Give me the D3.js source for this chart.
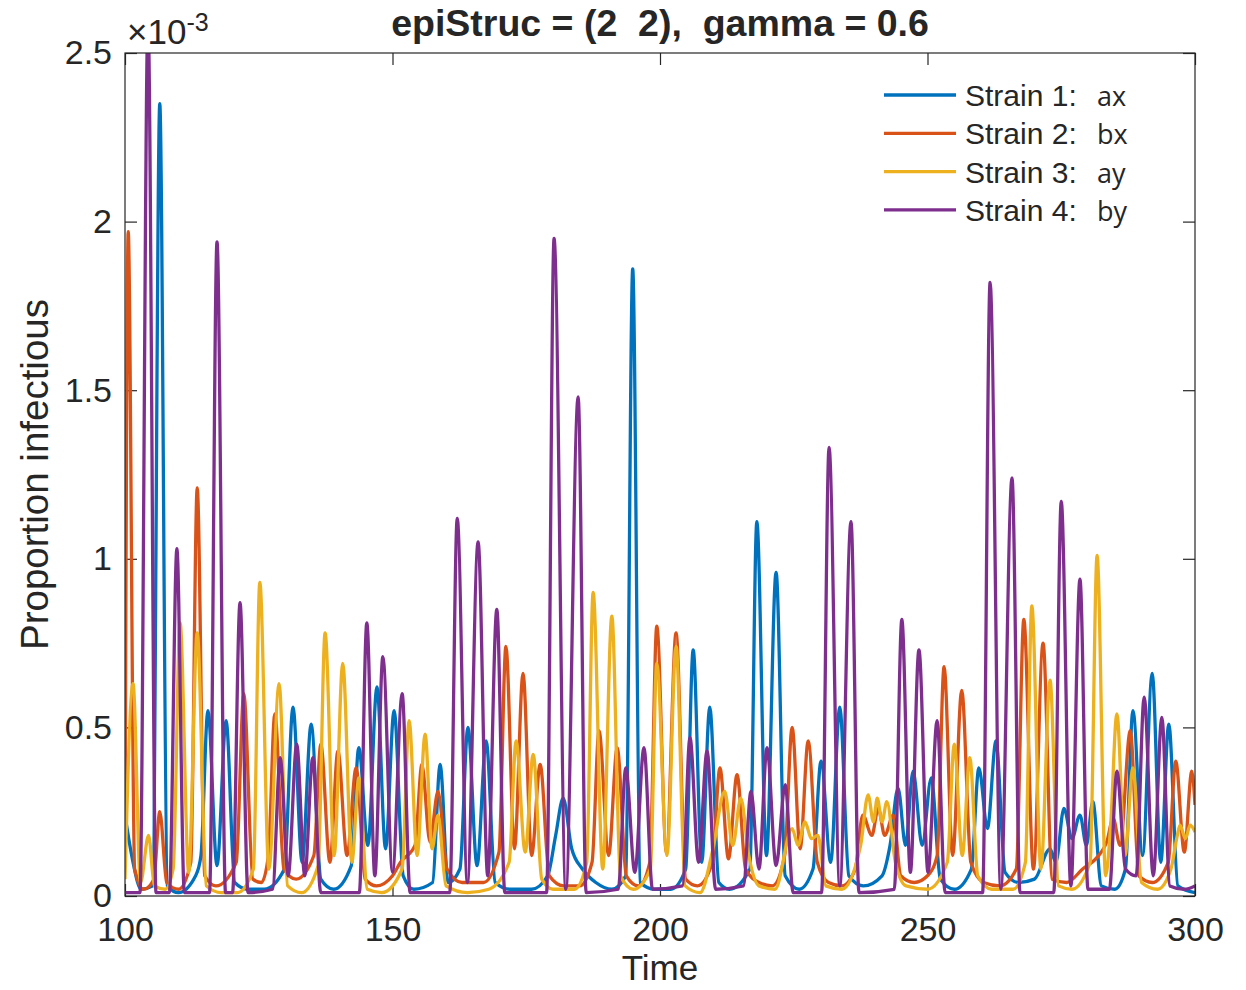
<!DOCTYPE html>
<html>
<head>
<meta charset="utf-8">
<script src="https://cdn.jsdelivr.net/npm/d3@7"></script>
<style>
  body { margin: 0; background: #fff; }
  text { font-family: "Liberation Sans", Arial, Helvetica, sans-serif; fill: #262626; }
</style>
</head>
<body>
<svg id="chart"></svg>
<script>
// tick values and labels
const timeTicks = [100, 150, 200, 250, 300];
const propTicks = [0, 0.5, 1, 1.5, 2, 2.5];
const strainNames = ["Strain 1:", "Strain 2:", "Strain 3:", "Strain 4:"];
const strainCodes = ["ax", "bx", "ay", "by"];

// [time, proportion infectious x 1e-3]
const strain1 = [[100,0.24],[101.5,0.1],[103,0.02],[105.2,0.03],[106.5,2.35],[107.9,0.03],[110,0.01],[113.2,0.06],[114.2,0.12],[115.5,0.55],[117.2,0.09],[118.9,0.52],[120.5,0.04],[123,0.02],[126,0.02],[129.8,0.08],[131.4,0.56],[133.1,0.1],[134.8,0.51],[136.6,0.05],[139,0.02],[142.3,0.09],[143.7,0.44],[145.4,0.15],[147.1,0.62],[148.7,0.14],[150.3,0.55],[152,0.06],[154,0.02],[157.5,0.04],[158.9,0.39],[160.4,0.04],[162.6,0.08],[164.1,0.5],[165.8,0.09],[167.5,0.46],[169.2,0.04],[172,0.02],[176,0.02],[179,0.06],[180.5,0.18],[181.9,0.29],[183.5,0.14],[185.5,0.08],[188,0.04],[191,0.02],[193.6,0.06],[194.9,1.86],[196.3,0.04],[199,0.02],[202,0.02],[204.8,0.08],[206.2,0.73],[207.8,0.1],[209.3,0.56],[211,0.04],[213,0.02],[216.8,0.08],[218.1,1.11],[219.9,0.12],[221.7,0.96],[223.4,0.06],[226,0.02],[228.6,0.08],[230.1,0.4],[231.9,0.1],[233.6,0.56],[235.3,0.06],[238,0.03],[241.5,0.06],[243,0.15],[244.5,0.32],[245.9,0.15],[247.3,0.37],[249,0.15],[250.7,0.35],[252.4,0.05],[255,0.02],[258.2,0.08],[259.6,0.38],[261.2,0.2],[262.8,0.46],[264.5,0.07],[267,0.04],[270,0.05],[272.9,0.14],[274,0.1],[275.5,0.26],[277,0.17],[278.5,0.24],[279.7,0.15],[280.9,0.28],[282.5,0.03],[285,0.02],[287,0.08],[288.4,0.55],[290.2,0.12],[292,0.66],[293.6,0.1],[295.1,0.51],[296.8,0.03],[300,0.01]];

const strain2 = [[100,0.12],[100.6,1.97],[101.8,0.08],[103.5,0.02],[105.4,0.05],[106.5,0.25],[107.8,0.04],[110,0.02],[112.3,0.1],[113.5,1.21],[114.9,0.06],[117,0.03],[120.8,0.1],[122.2,0.6],[123.9,0.05],[125.5,0.04],[126.8,0.12],[128,0.54],[129.7,0.08],[132,0.05],[135.3,0.12],[136.6,0.45],[138.3,0.1],[139.8,0.43],[141.5,0.12],[143.2,0.38],[144.9,0.05],[147,0.03],[150,0.06],[151.5,0.1],[154.2,0.15],[155.5,0.39],[157,0.16],[158.5,0.31],[160.2,0.08],[163,0.04],[167,0.04],[169.9,0.13],[171.2,0.74],[172.8,0.14],[174.4,0.66],[176,0.12],[177.6,0.39],[179.3,0.06],[182,0.03],[185,0.03],[187.3,0.1],[188.6,0.49],[190.4,0.12],[192,0.44],[193.7,0.06],[196,0.03],[198.1,0.1],[199.4,0.8],[201.2,0.13],[203,0.78],[204.8,0.05],[207,0.03],[209.8,0.1],[211.2,0.38],[212.8,0.11],[214.4,0.36],[216,0.08],[218.5,0.04],[221,0.03],[223.3,0.12],[224.7,0.5],[226.2,0.14],[227.7,0.46],[229.4,0.1],[231.5,0.04],[234,0.03],[236.5,0.08],[237.9,0.24],[239.6,0.18],[240.8,0.26],[242,0.18],[243.6,0.24],[245,0.06],[247.5,0.04],[250,0.06],[251.8,0.12],[253.1,0.68],[254.7,0.12],[256.4,0.61],[258.1,0.1],[260.5,0.04],[263.5,0.03],[266.6,0.08],[268,0.82],[269.8,0.08],[271.6,0.75],[273.3,0.05],[276,0.04],[279,0.08],[282,0.12],[283.5,0.16],[284.7,0.23],[286,0.15],[287.9,0.49],[289.5,0.06],[292,0.04],[295,0.1],[296.4,0.4],[298,0.13],[299.4,0.37],[300,0.27]];

const strain3 = [[100,0.05],[101.5,0.63],[102.9,0.04],[104.4,0.18],[105.5,0.03],[107.5,0.02],[109,0.08],[110.3,0.81],[111.9,0.07],[113.5,0.78],[115.2,0.03],[118,0.01],[121,0.01],[124,0.08],[125.2,0.93],[126.9,0.08],[128.8,0.63],[130.4,0.03],[133,0.01],[136.1,0.09],[137.4,0.78],[139.1,0.12],[140.7,0.69],[142.4,0.1],[143.7,0.35],[145.3,0.02],[148,0.01],[151.8,0.08],[153.1,0.52],[154.6,0.12],[156.1,0.48],[157.4,0.14],[158.5,0.24],[160,0.03],[164,0.01],[168,0.02],[171.8,0.1],[173.1,0.46],[174.8,0.13],[176.3,0.42],[177.9,0.05],[180,0.02],[184,0.02],[186.3,0.1],[187.5,0.9],[189.3,0.08],[191,0.83],[192.6,0.06],[195,0.02],[198.2,0.08],[199.4,0.69],[201.3,0.12],[203,0.74],[204.7,0.03],[207.5,0.01],[209.9,0.14],[212.1,0.31],[213.6,0.15],[215.1,0.29],[216.6,0.12],[218.5,0.03],[221.5,0.02],[224.7,0.2],[225.8,0.15],[227.1,0.22],[228.3,0.17],[229.5,0.18],[231,0.03],[234,0.02],[237.5,0.15],[238.9,0.3],[239.9,0.22],[240.6,0.29],[241.5,0.22],[242.4,0.28],[244,0.1],[246,0.03],[250,0.02],[253.7,0.1],[255,0.45],[256.5,0.12],[257.9,0.41],[259.4,0.06],[262,0.02],[266,0.02],[268.3,0.1],[269.5,0.86],[271.2,0.08],[272.9,0.64],[274.5,0.03],[277,0.02],[280.4,0.1],[281.7,1.01],[283.3,0.06],[284.2,0.2],[285.4,0.54],[286.9,0.12],[288.4,0.38],[290,0.04],[293,0.02],[295.5,0.08],[296.7,0.18],[297.2,0.21],[298.2,0.17],[299.1,0.21],[300,0.19]];

const strain4 = [[100,0.01],[102.8,0.01],[104.3,2.6],[105.8,0.01],[108.3,0.01],[109.7,1.03],[111.1,0.01],[115.8,0.01],[117.2,1.94],[118.8,0.01],[120.1,0.01],[121.5,0.87],[123,0.01],[127.6,0.02],[129,0.41],[130.5,0.06],[132.1,0.45],[133.6,0.06],[135.1,0.41],[136.6,0.01],[143.8,0.01],[145.2,0.81],[146.7,0.06],[148.2,0.71],[150,0.07],[151.8,0.6],[153.3,0.01],[160.7,0.01],[162.1,1.12],[164,0.04],[166,1.05],[167.8,0.06],[169.5,0.85],[171,0.01],[178.8,0.01],[180.2,1.95],[182.4,0.02],[184.7,1.48],[186.2,0.01],[192.2,0.02],[193.6,0.38],[195.3,0.07],[197,0.44],[198.6,0.02],[204.2,0.03],[205.6,0.47],[207.2,0.1],[208.8,0.43],[210.4,0.02],[215.6,0.03],[217,0.31],[218.5,0.08],[220,0.44],[221.7,0.09],[223.4,0.33],[224.9,0.01],[230.2,0.01],[231.6,1.33],[233.6,0.03],[235.7,1.11],[237.2,0.01],[243.8,0.02],[245.2,0.82],[246.8,0.07],[248.4,0.73],[250.1,0.07],[251.8,0.52],[253.3,0.01],[260.3,0.01],[261.7,1.82],[263.7,0.02],[265.8,1.24],[267.3,0.01],[273.6,0.01],[275,1.17],[276.8,0.03],[278.5,0.94],[280,0.02],[284,0.02],[285.4,0.37],[287,0.08],[289,0.06],[290.5,0.59],[292.2,0.06],[293.8,0.53],[295.3,0.03],[298,0.02],[300,0.03]];

const allStrains = [strain1, strain2, strain3, strain4];
const colors = ["#0072BD", "#D95319", "#EDB120", "#7E2F8E"];

const W = 1246, H = 990;
const margin = {top: 53, right: 51, bottom: 94, left: 125};
const width = W - margin.left - margin.right;
const height = H - margin.top - margin.bottom;

const svg = d3.select("#chart").attr("width", W).attr("height", H);
const chart = svg.append("g").attr("transform", `translate(${margin.left},${margin.top})`);

const x = d3.scaleLinear().domain([100, 300]).range([0, width]);
const y = d3.scaleLinear().domain([0, 2.5]).range([height, 0]);

chart.append("defs").append("clipPath").attr("id", "clip")
  .append("rect").attr("width", width).attr("height", height);

// axes, ticks point inward
const fmt = d => String(d);
chart.append("g").attr("class", "axis x-axis")
  .attr("transform", `translate(0,${height})`)
  .call(d3.axisBottom(x).tickValues(timeTicks).tickFormat(fmt).tickSizeInner(-12).tickSizeOuter(0).tickPadding(21));
chart.append("g").attr("class", "axis x-top")
  .call(d3.axisTop(x).tickValues(timeTicks).tickFormat("").tickSizeInner(-12).tickSizeOuter(0));
chart.append("g").attr("class", "axis y-axis")
  .call(d3.axisLeft(y).tickValues(propTicks).tickFormat(fmt).tickSizeInner(-12).tickSizeOuter(0).tickPadding(13));
chart.append("g").attr("class", "axis y-right")
  .attr("transform", `translate(${width},0)`)
  .call(d3.axisRight(y).tickValues(propTicks).tickFormat("").tickSizeInner(-12).tickSizeOuter(0));

chart.selectAll(".axis .domain").remove();
chart.selectAll(".axis line").attr("stroke", "#262626").attr("stroke-width", 1.2);
chart.selectAll(".axis text").attr("font-size", 34).attr("fill", "#262626")
  .style("font-family", "'Liberation Sans', Arial, sans-serif");

// lines
const line = d3.line()
  .x(d => x(d[0]))
  .y(d => y(d[1]))
  .curve(d3.curveMonotoneX);

chart.append("g").attr("clip-path", "url(#clip)")
  .selectAll(".strain")
  .data(allStrains)
  .join("path")
    .attr("class", "strain")
    .attr("d", line)
    .attr("fill", "none")
    .attr("stroke", (d, i) => colors[i])
    .attr("stroke-width", 3.3)
    .attr("stroke-linejoin", "round");

// box
chart.append("rect")
  .attr("width", width).attr("height", height)
  .attr("fill", "none").attr("stroke", "#262626").attr("stroke-width", 1.2);

// exponent
const expo = svg.append("text").attr("x", 127).attr("y", 44).attr("font-size", 35);
expo.append("tspan").style("font-weight", 300).text("\u00d710");
expo.append("tspan").attr("dy", -13).attr("font-size", 25).text("-3");

// title
svg.append("text")
  .attr("x", margin.left + width / 2).attr("y", 36)
  .attr("text-anchor", "middle")
  .attr("font-size", 37.5).attr("font-weight", "bold")
  .attr("fill", "#000")
  .style("white-space", "pre")
  .text("epiStruc = (2  2),  gamma = 0.6");

// axis titles
svg.append("text")
  .attr("x", margin.left + width / 2).attr("y", 980)
  .attr("text-anchor", "middle").attr("font-size", 35)
  .text("Time");

svg.append("text")
  .attr("transform", `translate(48,${margin.top + height / 2}) rotate(-90)`)
  .attr("text-anchor", "middle").attr("font-size", 38.5)
  .text("Proportion infectious");

// legend
const legend = svg.append("g").attr("class", "legend");
const rows = legend.selectAll("g").data(strainNames).join("g")
  .attr("transform", (d, i) => `translate(884,${95 + i * 38.3})`);
rows.append("line")
  .attr("x1", 0).attr("x2", 72)
  .attr("stroke", (d, i) => colors[i]).attr("stroke-width", 3.3);
rows.append("text")
  .attr("x", 81).attr("y", 11).attr("font-size", 30).attr("fill", "#000")
  .text(d => d);
rows.append("text")
  .attr("x", 213).attr("y", 11).attr("font-size", 27).attr("fill", "#000")
  .style("font-family", "'Open Sans', sans-serif")
  .text((d, i) => strainCodes[i]);
</script>
</body>
</html>
